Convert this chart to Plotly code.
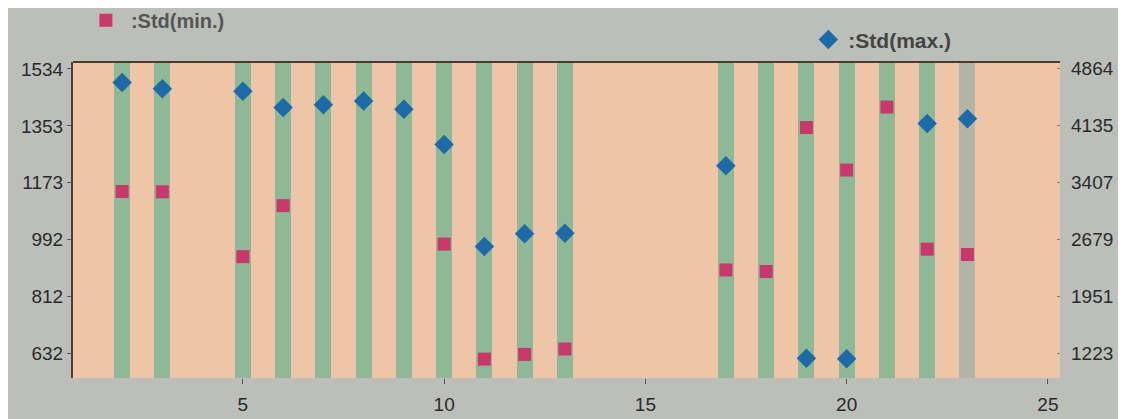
import plotly.graph_objects as go

# ---- data ----
x_cats = [2, 3, 5, 6, 7, 8, 9, 10, 11, 12, 13, 17, 18, 19, 20, 21, 22, 23]

# Std(min.) -> left axis (None = no marker)
std_min = [1145, 1144, 938, 1100, None, None, None, 978, 613, 628, 645,
           896, 891, 1348, 1213, 1413, 962, 945]
# Std(max.) -> right axis
std_max = [4689, 4609, 4577, 4369, 4405, 4452, 4346, 3895, 2589, 2752, 2759,
           3622, None, 1159, 1153, None, 4165, 4224]

left_ticks = [632, 812, 992, 1173, 1353, 1534]
right_ticks = [1223, 1951, 2679, 3407, 4135, 4864]
x_ticks = [5, 10, 15, 20, 25]

band_full = [1] * len(x_cats)
band_colors = ["#8fb996"] * (len(x_cats) - 1) + ["#b3b3a6"]

FONT = "Liberation Sans, Arial, sans-serif"
TXT = "#2a2a2a"

fig = go.Figure()

# background vertical bands on the base (hidden 0..1) axis
fig.add_trace(go.Bar(
    x=x_cats, y=band_full, yaxis="y", width=0.4,
    marker=dict(color=band_colors, line=dict(width=0)),
    showlegend=False, hoverinfo="skip"))

fig.add_trace(go.Scatter(
    x=x_cats, y=std_min, mode="markers", name=":Std(min.)",
    marker=dict(symbol="square", size=13, color="#c9386a"),
    yaxis="y2", legend="legend", cliponaxis=False))

fig.add_trace(go.Scatter(
    x=x_cats, y=std_max, mode="markers", name=":Std(max.)",
    marker=dict(symbol="diamond", size=15, color="#1c6aa8"),
    yaxis="y3", legend="legend2", cliponaxis=False))

fig.update_layout(
    width=1126, height=419,
    margin=dict(l=65, r=74, t=54, b=49),
    paper_bgcolor="#bcbfb9",
    plot_bgcolor="#efc5a8",
    font=dict(family=FONT, size=19, color=TXT),
    bargap=0,
    xaxis=dict(range=[0.78, 25.3], tickvals=x_ticks, showgrid=False,
               zeroline=False, showline=False, ticks="outside", ticklen=5,
               ticklabelstandoff=4, automargin=False,
               tickcolor="#555", tickfont=dict(size=19, color=TXT)),
    yaxis=dict(range=[0, 1], visible=False, fixedrange=True,
               automargin=False),
    yaxis2=dict(range=[553, 1556], tickvals=left_ticks,
                ticktext=[str(v) for v in left_ticks], overlaying="y",
                side="left", showgrid=False, zeroline=False, showline=True,
                automargin=False,
                linecolor="#5a3c2c", linewidth=2, ticks="outside", ticklen=4,
                tickcolor="#555", tickfont=dict(size=19, color=TXT)),
    yaxis3=dict(range=[906, 4951], tickvals=right_ticks,
                ticktext=[str(v) for v in right_ticks], overlaying="y",
                side="right", showgrid=False, zeroline=False, showline=False,
                automargin=False, ticklabelstandoff=10,
                ticks="inside", ticklen=3, tickcolor="#a07060",
                tickfont=dict(size=19, color=TXT)),
    legend=dict(x=0.008, y=0.971, xref="paper", yref="container",
                xanchor="left", yanchor="middle", itemwidth=40,
                bgcolor="rgba(0,0,0,0)",
                font=dict(size=20, color="#555", weight="bold")),
    legend2=dict(x=0.745, y=0.924, xref="paper", yref="container",
                 xanchor="left", yanchor="middle",
                 bgcolor="rgba(0,0,0,0)",
                 font=dict(size=21, color="#444", weight="bold")),
    shapes=[dict(type="line", xref="paper", yref="paper", x0=0, x1=1,
                 y0=1, y1=1, line=dict(color="#4a3a30", width=2))],
)

fig.write_html("out.html")
